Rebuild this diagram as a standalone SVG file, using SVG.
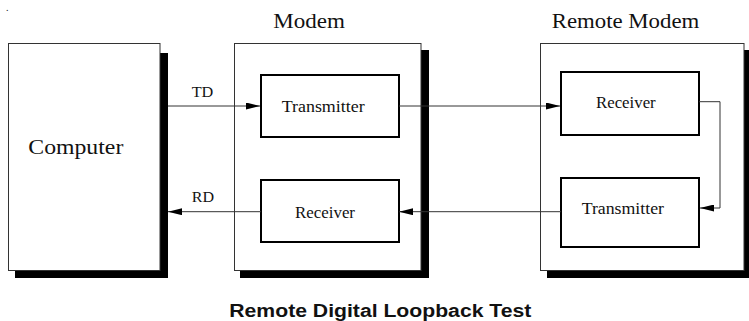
<svg xmlns="http://www.w3.org/2000/svg" width="749" height="321" viewBox="0 0 749 321">
<defs>
<style>
.outer{fill:#fff;stroke:#333;stroke-width:1}
.shadow{fill:#000}
.inner{fill:#fff;stroke:#000;stroke-width:2}
.serif{font-family:"Liberation Serif","Times New Roman",serif;fill:#111}
.conn{fill:none;stroke:#333;stroke-width:1}
.title{font-family:"Liberation Sans",Arial,sans-serif;font-weight:bold;font-size:18px;fill:#111}
</style>
<marker id="ah" markerUnits="userSpaceOnUse" markerWidth="14" markerHeight="7" refX="14" refY="3.5" orient="auto">
<path d="M0,0 L14,3.5 L0,7 z" fill="#000"/>
</marker>
</defs>
<rect width="749" height="321" fill="#fff"/>
<text x="6" y="11" class="serif" font-size="10">.</text>

<g id="computer">
<rect class="shadow" x="15" y="53" width="153" height="225"/>
<rect class="outer" x="8.5" y="43.5" width="151.5" height="227"/>
<text class="serif" x="28.3" y="154" font-size="22" textLength="95" lengthAdjust="spacingAndGlyphs">Computer</text>
</g>

<g id="modem">
<rect class="shadow" x="240" y="50" width="189" height="228"/>
<rect class="outer" x="234.5" y="43.5" width="186.5" height="227"/>
<text class="serif" x="273.3" y="28" font-size="21" textLength="71.7" lengthAdjust="spacingAndGlyphs">Modem</text>
</g>

<g id="remote-modem">
<rect class="shadow" x="547" y="50" width="205" height="228"/>
<rect class="outer" x="540.5" y="43.5" width="203.5" height="227"/>
<text class="serif" x="551.7" y="28" font-size="21" textLength="147.6" lengthAdjust="spacingAndGlyphs">Remote Modem</text>
</g>

<g id="modem-transmitter">
<rect class="inner" x="261" y="75" width="138" height="62"/>
<text class="serif" x="281.7" y="111.7" font-size="16" textLength="83" lengthAdjust="spacingAndGlyphs">Transmitter</text>
</g>

<g id="modem-receiver">
<rect class="inner" x="261" y="180" width="138" height="62"/>
<text class="serif" x="295" y="218.3" font-size="16" textLength="60" lengthAdjust="spacingAndGlyphs">Receiver</text>
</g>

<g id="remote-receiver">
<rect class="inner" x="561" y="72" width="138" height="63"/>
<text class="serif" x="596" y="108.3" font-size="16" textLength="59.7" lengthAdjust="spacingAndGlyphs">Receiver</text>
</g>

<g id="remote-transmitter">
<rect class="inner" x="561" y="178" width="138" height="69"/>
<text class="serif" x="581.7" y="214" font-size="16" textLength="82.3" lengthAdjust="spacingAndGlyphs">Transmitter</text>
</g>

<g id="connectors">
<line class="conn" x1="168" y1="106" x2="260" y2="106" marker-end="url(#ah)"/>
<line class="conn" x1="261" y1="211.7" x2="168" y2="211.7" marker-end="url(#ah)"/>
<line class="conn" x1="399" y1="106" x2="560" y2="106" marker-end="url(#ah)"/>
<line class="conn" x1="561" y1="211.7" x2="399" y2="211.7" marker-end="url(#ah)"/>
<polyline class="conn" points="699,101.7 720,101.7 720,208 700,208" marker-end="url(#ah)"/>
<text class="serif" x="191.7" y="96.7" font-size="15" textLength="21.6" lengthAdjust="spacingAndGlyphs">TD</text>
<text class="serif" x="191.7" y="201.7" font-size="15" textLength="22.3" lengthAdjust="spacingAndGlyphs">RD</text>
</g>

<text class="title" x="229.3" y="316.7" textLength="302" lengthAdjust="spacingAndGlyphs">Remote Digital Loopback Test</text>
</svg>
